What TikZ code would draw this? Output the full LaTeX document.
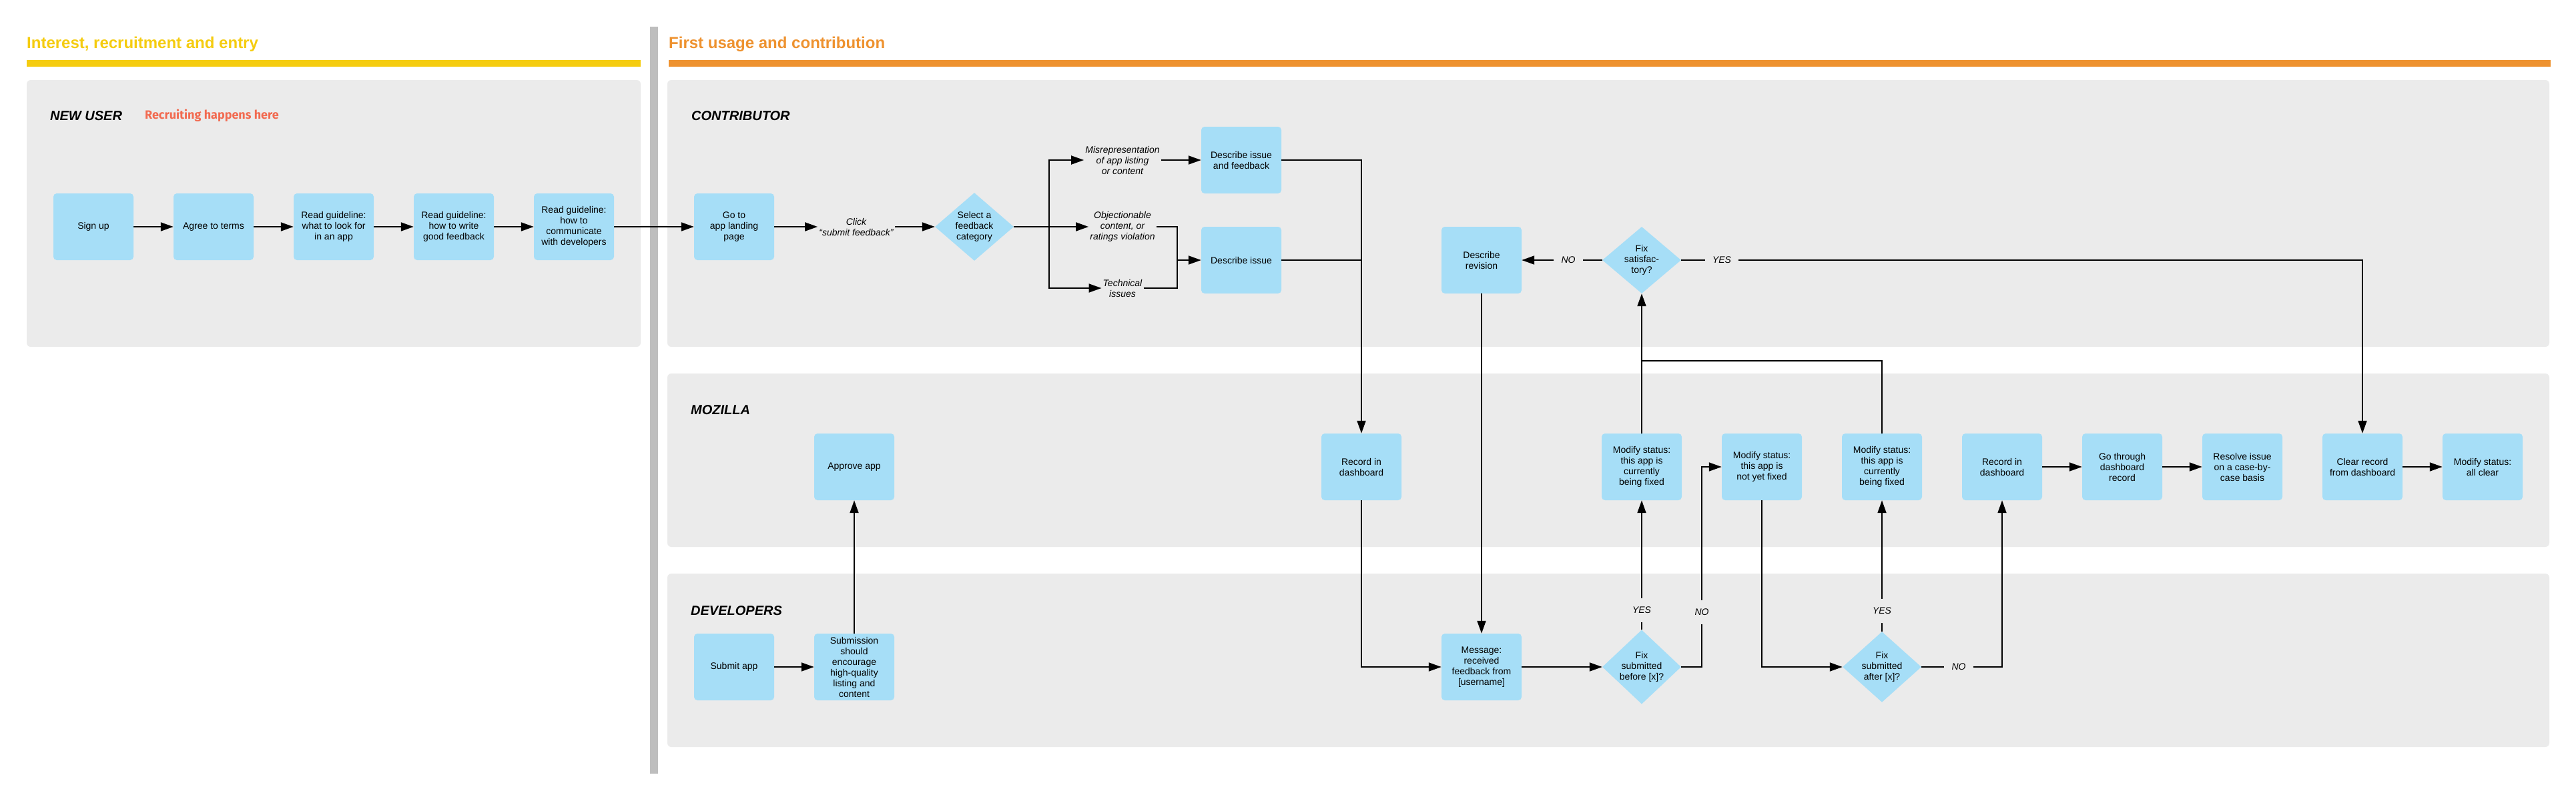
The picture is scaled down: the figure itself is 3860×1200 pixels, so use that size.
\documentclass[tikz,border=0pt]{standalone}
\usepackage{fontspec}
\setmainfont{Liberation Sans}
\newfontfamily\handfont{Fira Sans}
\usetikzlibrary{shapes.geometric,arrows.meta}
\definecolor{boxblue}{HTML}{A6DEF7}
\definecolor{panelgray}{HTML}{EBEBEB}
\definecolor{sepgray}{HTML}{BEBEBE}
\definecolor{titleyellow}{HTML}{F5CC10}
\definecolor{titleorange}{HTML}{EE922F}
\definecolor{handred}{HTML}{F26A50}
\begin{document}
\begin{tikzpicture}[x=1pt,y=-1pt,
 stepbox/.style={rectangle, rounded corners=5pt, fill=boxblue, minimum width=120pt, minimum height=100pt, inner sep=0pt, align=center, font=\fontsize{14}{16}\selectfont},
 decbox/.style={diamond, fill=boxblue, minimum width=118pt, minimum height=100pt, inner sep=0pt, align=center, font=\fontsize{14}{16}\selectfont},
 edgelbl/.style={inner sep=2pt, align=center, font=\fontsize{14}{16}\selectfont\itshape},
 yn/.style={inner xsep=11pt, inner ysep=13pt, font=\fontsize{14}{16}\selectfont\itshape},
 conn/.style={line width=2pt, -{Triangle[length=19pt,width=13pt]}},
 plain/.style={line width=2pt},
 lanelbl/.style={anchor=base west, inner sep=0pt, font=\fontsize{20}{24}\selectfont\bfseries\itshape},
 phase/.style={anchor=base west, inner sep=0pt, font=\fontsize{24}{28}\selectfont\bfseries},
 panel/.style={fill=panelgray, rounded corners=6pt}
]
\useasboundingbox (0,0) rectangle (3860,1200);
\fill[white] (0,0) rectangle (3860,1200);

% phase headers
\node[phase, text=titleyellow] (ph1) at (40,72) {Interest, recruitment and entry};
\node[phase, text=titleorange] (ph2) at (1002,72) {First usage and contribution};
\fill[titleyellow] (40,90) rectangle (960,100);
\fill[titleorange] (1002,90) rectangle (3822,100);
\fill[sepgray] (974,40) rectangle (986,1160);

% panels
\fill[panel] (40,120) rectangle (960,520);
\fill[panel] (1000,120) rectangle (3820,520);
\fill[panel] (1000,560) rectangle (3820,820);
\fill[panel] (1000,860) rectangle (3820,1120);

% lane labels
\node[lanelbl] (lnew) at (75,180) {NEW USER};
\node[anchor=base west, inner sep=0pt, text=handred, font=\handfont\fontsize{18}{20}\selectfont\bfseries] (lrec) at (217,178) {Recruiting happens here};
\node[lanelbl] (lcon) at (1036,180) {CONTRIBUTOR};
\node[lanelbl] (lmoz) at (1035,621) {MOZILLA};
\node[lanelbl] (ldev) at (1035,922) {DEVELOPERS};

% new user row
\node[stepbox] (signup) at (140,340) {Sign up};
\node[stepbox] (agree) at (320,340) {Agree to terms};
\node[stepbox] (rg1) at (500,340) {Read guideline:\\what to look for\\in an app};
\node[stepbox] (rg2) at (680,340) {Read guideline:\\how to write\\good feedback};
\node[stepbox] (rg3) at (860,340) {Read guideline:\\how to\\communicate\\with developers};

% contributor
\node[stepbox] (goto) at (1100,340) {Go to\\app landing\\page};
\node[edgelbl] (click) at (1283,340) {Click\\“submit feedback”};
\node[decbox] (select) at (1460,340) {Select a\\feedback\\category};
\coordinate (br) at (1572,340);
\node[edgelbl] (misrep) at (1682,240) {Misrepresentation\\of app listing\\or content};
\node[edgelbl] (objec) at (1682,340) {Objectionable\\content, or\\ratings violation};
\node[edgelbl] (tech) at (1682,432) {Technical\\issues};
\coordinate (jn) at (1764,390);
\node[stepbox] (dif) at (1860,240) {Describe issue\\and feedback};
\node[stepbox] (di) at (1860,390) {Describe issue};
\node[stepbox] (dr) at (2220,390) {Describe\\revision};
\node[decbox] (fs) at (2460,390) {Fix\\satisfac-\\tory?};
\node[yn] (nofs) at (2350,390) {NO};
\node[yn] (yesfs) at (2580,390) {YES};

% mozilla
\node[stepbox] (ap) at (1280,700) {Approve app};
\node[stepbox] (rec1) at (2040,700) {Record in\\dashboard};
\node[stepbox] (m1) at (2460,700) {Modify status:\\this app is\\currently\\being fixed};
\node[stepbox] (m2) at (2640,700) {Modify status:\\this app is\\not yet fixed};
\node[stepbox] (m3) at (2820,700) {Modify status:\\this app is\\currently\\being fixed};
\node[stepbox] (rec2) at (3000,700) {Record in\\dashboard};
\node[stepbox] (gt) at (3180,700) {Go through\\dashboard\\record};
\node[stepbox] (res) at (3360,700) {Resolve issue\\on a case-by-\\case basis};
\node[stepbox] (clr) at (3540,700) {Clear record\\from dashboard};
\node[stepbox] (ac) at (3720,700) {Modify status:\\all clear};
\coordinate (j2) at (2460,541);

% developers
\node[stepbox] (sa) at (1100,1000) {Submit app};
\node[stepbox] (sub) at (1280,1000) {Submission\\should\\encourage\\high-quality\\listing and\\content};
\node[stepbox] (msg) at (2220,1000) {Message:\\received\\feedback from\\{}[username]};
\node[decbox] (d1) at (2460,1000) {Fix\\submitted\\before [x]?};
\node[decbox] (d2) at (2820,1000) {Fix\\submitted\\after [x]?};
\node[yn] (yes1) at (2460,915) {YES};
\node[yn] (no1) at (2550,918) {NO};
\node[yn] (yes2) at (2820,916) {YES};
\node[yn] (no2) at (2935,1000) {NO};

% connectors: new user
\draw[conn] (signup) -- (agree);
\draw[conn] (agree) -- (rg1);
\draw[conn] (rg1) -- (rg2);
\draw[conn] (rg2) -- (rg3);
\draw[conn] (rg3) -- (goto);

% connectors: contributor
\draw[conn] (goto) -- (click);
\draw[conn] (click) -- (select);
\draw[plain] (select.east) -- (br);
\draw[conn] (br) |- (misrep);
\draw[conn] (br) -- (objec);
\draw[conn] (br) |- (tech);
\draw[conn] (misrep) -- (dif);
\draw[plain] (objec.east) -| (jn);
\draw[plain] (tech.east) -| (jn);
\draw[conn] (jn) -- (di);
\draw[conn] (dif.east) -| (rec1.north);
\draw[plain] (di.east) -- (di.east -| rec1.north);
\draw[plain] (fs.west) -- (nofs);
\draw[conn] (nofs) -- (dr);
\draw[plain] (fs.east) -- (yesfs);
\draw[conn] (yesfs) -| (clr.north);
\draw[conn] (dr.south) -- (msg.north);

% connectors: mozilla / developers
\draw[conn] (rec1.south) |- (msg.west);
\draw[conn] (msg) -- (d1);
\draw[plain] (d1.north) -- (yes1);
\draw[conn] (yes1) -- (m1.south);
\draw[plain] (d1.east) -| (no1.south);
\draw[conn] (no1.north) |- (m2.west);
\draw[conn] (m1.north) -- (fs.south);
\draw[plain] (m3.north) |- (j2);
\draw[conn] (m2.south) |- (d2.west);
\draw[plain] (d2.north) -- (yes2);
\draw[conn] (yes2) -- (m3.south);
\draw[plain] (d2.east) -- (no2);
\draw[conn] (no2) -| (rec2.south);
\draw[conn] (rec2) -- (gt);
\draw[conn] (gt) -- (res);
\draw[conn] (clr) -- (ac);
\draw[conn] (sa) -- (sub);
\draw[conn] (sub) -- (ap);
\end{tikzpicture}
\end{document}
